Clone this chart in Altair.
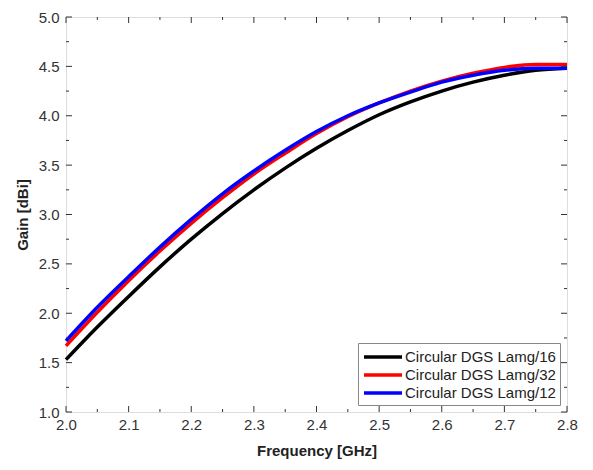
import altair as alt
import pandas as pd

freq = [2.00, 2.05, 2.10, 2.15, 2.20, 2.25, 2.30, 2.35, 2.40, 2.45, 2.50, 2.55, 2.60, 2.65, 2.70, 2.75, 2.80]
gain_l16 = [1.53, 1.86, 2.17, 2.47, 2.75, 3.01, 3.25, 3.47, 3.67, 3.85, 4.01, 4.14, 4.25, 4.34, 4.41, 4.46, 4.48]
gain_l32 = [1.67, 2.01, 2.33, 2.63, 2.91, 3.17, 3.41, 3.62, 3.82, 3.99, 4.13, 4.25, 4.35, 4.43, 4.49, 4.52, 4.52]
gain_l12 = [1.72, 2.06, 2.37, 2.67, 2.95, 3.21, 3.44, 3.65, 3.84, 4.00, 4.13, 4.24, 4.34, 4.41, 4.46, 4.48, 4.48]

names = ["Circular DGS Lamg/16", "Circular DGS Lamg/32", "Circular DGS Lamg/12"]
colors = ["#000000", "#ff0000", "#0000ff"]

x_major = [2.0, 2.1, 2.2, 2.3, 2.4, 2.5, 2.6, 2.7, 2.8]
x_minor = [2.05, 2.15, 2.25, 2.35, 2.45, 2.55, 2.65, 2.75]
y_major = [1.0, 1.5, 2.0, 2.5, 3.0, 3.5, 4.0, 4.5, 5.0]
y_minor = [1.25, 1.75, 2.25, 2.75, 3.25, 3.75, 4.25, 4.75]

rows = []
for name, vals in zip(names, [gain_l16, gain_l32, gain_l12]):
    for f, g in zip(freq, vals):
        rows.append({"f": f, "g": g, "series": name})
df = pd.DataFrame(rows)

W, H = 501, 395
xscale = alt.Scale(domain=[2.0, 2.8], nice=False, zero=False)
yscale = alt.Scale(domain=[1.0, 5.0], nice=False, zero=False)
FONT = "Liberation Sans"
TICK = "#333333"

lines = alt.Chart(df).mark_line(strokeWidth=3.5, interpolate="monotone").encode(
    x=alt.X("f:Q", scale=xscale, axis=alt.Axis(
        orient="bottom", values=x_major, format=".1f", ticks=False, domain=False,
        grid=False, labelFlush=False, labelPadding=5, labelFontSize=15,
        labelColor="#333333", labelFont=FONT, title="Frequency [GHz]", titleFont=FONT,
        titleFontSize=15, titleFontWeight="bold", titleColor="#222222", titlePadding=11)),
    y=alt.Y("g:Q", scale=yscale, axis=alt.Axis(
        orient="left", values=y_major, format=".1f", ticks=False, domain=False,
        grid=False, labelFlush=False, labelPadding=7, labelFontSize=15,
        labelColor="#333333", labelFont=FONT, title="Gain [dBi]", titleFont=FONT,
        titleFontSize=15, titleFontWeight="bold", titleColor="#222222", titlePadding=8)),
    color=alt.Color("series:N", scale=alt.Scale(domain=names, range=colors),
                    sort=names,
                    legend=alt.Legend(
                        title=None, orient="none", legendX=292, legendY=326,
                        symbolType="M-1,0H3.75", symbolStrokeWidth=3.5, symbolSize=256,
                        labelFont=FONT, labelFontSize=15, labelColor="#222222",
                        strokeColor="#888888", fillColor="white", padding=4,
                        rowPadding=0, labelOffset=23, labelLimit=300)),
)


def xticks(vals, y0, y1):
    return alt.Chart(pd.DataFrame({"t": vals})).mark_rule(color=TICK, strokeWidth=1).encode(
        x=alt.X("t:Q", scale=xscale, axis=None), y=alt.value(y0), y2=alt.value(y1))


def yticks(vals, x0, x1):
    return alt.Chart(pd.DataFrame({"t": vals})).mark_rule(color=TICK, strokeWidth=1).encode(
        y=alt.Y("t:Q", scale=yscale, axis=None), x=alt.value(x0), x2=alt.value(x1))


chart = alt.layer(
    lines,
    xticks(x_major, H, H - 6), xticks(x_minor, H, H - 3),
    xticks(x_major, 0, 6), xticks(x_minor, 0, 3),
    yticks(y_major, 0, 6), yticks(y_minor, 0, 3),
    yticks(y_major, W, W - 6), yticks(y_minor, W, W - 3),
).resolve_axis(x="independent", y="independent").properties(
    width=W, height=H,
    autosize=alt.AutoSizeParams(type="none"),
    padding={"left": 58, "top": 9, "right": 18, "bottom": 50},
).configure_view(stroke="#333333", strokeWidth=1.5).configure(background="white")

chart.save("out.html", embed_options={"renderer": "svg", "actions": False})
